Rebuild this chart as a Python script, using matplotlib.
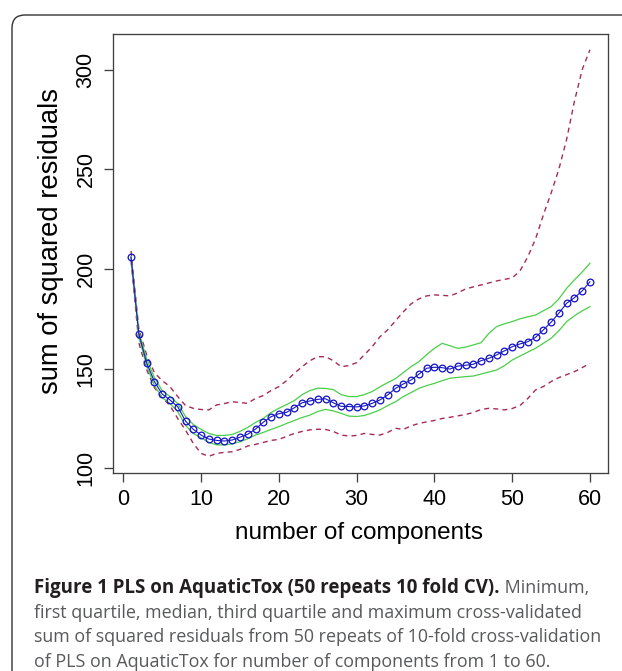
import matplotlib
matplotlib.use("Agg")
import matplotlib.pyplot as plt
from matplotlib.patches import FancyBboxPatch
from matplotlib.transforms import IdentityTransform

# cross-validated sum of squared residuals, 1..60 components
components = list(range(1, 61))
ssr_min = [204, 163, 149.5, 140.5, 135.5, 131.5, 125, 119.2, 112.5, 107.5,
           106, 107.5, 108, 108.3, 109.5, 111.2, 112, 113, 114, 114.5,
           116, 117.5, 118.5, 119.3, 119.6, 119.5, 118.5, 116.7, 116.2, 116.5,
           117.5, 117, 116.7, 118, 120.1, 119.5, 121.3, 122.5, 123.3, 124,
           125, 125.6, 126.3, 127, 128, 129.5, 130.1, 129.8, 129.3, 130,
           131.5, 135, 139.3, 141, 143.5, 145.5, 147, 148.5, 150.5, 152.7]
ssr_q1 = [206, 166, 151.5, 141.5, 135.5, 132.5, 128.5, 121.5, 117.5, 115.3,
          113, 111.8, 111.7, 112.3, 113.3, 114.8, 116.7, 118, 119.5, 120.9,
          122.5, 124, 125.5, 126.7, 128.5, 129.6, 128.8, 127.6, 126.2, 126,
          126.5, 127.8, 129.3, 131.5, 133.4, 136, 138, 140.1, 141.5, 142.6,
          144, 145.2, 145.6, 146, 146.3, 147.3, 148.3, 149.3, 151.5, 154.3,
          156.3, 158.3, 160.2, 162.7, 165.2, 169, 173.6, 176.5, 179, 181.1]
ssr_median = [206, 167.4, 153, 143.5, 137.3, 134.3, 130.9, 123.7, 119.6, 116.7,
              114.7, 114.0, 113.7, 114.2, 115.6, 117.1, 119.7, 123.1, 125.9, 127.4,
              128.1, 130.4, 132.9, 133.8, 134.6, 134.9, 132.9, 131.1, 131.0, 130.8,
              131.3, 132.6, 134.3, 136.8, 140.1, 142.3, 144.3, 147.2, 150.2, 150.7,
              150.5, 149.8, 151.3, 151.7, 152.2, 154.0, 155.2, 156.9, 158.9, 161.0,
              162.4, 163.5, 165.7, 169.4, 173.3, 177.8, 182.8, 185.6, 189.0, 193.6]
ssr_q3 = [206, 168.5, 155, 145.5, 139, 136, 132.5, 126, 122, 119.5,
          117.5, 116.5, 116.5, 117, 118.5, 120.5, 123, 125, 128, 130.1,
          132, 134, 137, 139, 140.2, 140.1, 139.5, 137, 136, 136,
          137, 138.5, 140.9, 143, 145, 148, 151, 153.5, 157, 160.2,
          162.7, 161.5, 160.2, 160.8, 161.9, 163, 167.7, 171.1, 172.5, 173.6,
          175, 176, 176.9, 179, 181.1, 185, 190.3, 194.5, 198.5, 202.9]
ssr_max = [209, 170, 157, 148, 144, 141, 136, 131.5, 130.1, 129.5,
           129.3, 131.8, 132.5, 133.4, 133, 132.6, 135.1, 136.5, 139, 141,
           144, 147.7, 151, 154, 156, 156, 154, 151, 151.5, 153,
           157, 161, 166, 169.5, 174, 178.5, 182.5, 185, 186.5, 187,
           186.8, 186.5, 188, 190, 191, 192, 193, 194, 194.8, 195.5,
           199, 206, 215, 227, 238, 250, 265, 284, 300, 310]

x_ticks = [0, 10, 20, 30, 40, 50, 60]
y_ticks = [100, 150, 200, 250, 300]

W, H = 622, 671
fig = plt.figure(figsize=(W / 100, H / 100), dpi=100)

# plot region in pixels (left, top, right, bottom)
L, T, R, B = 112.7, 34, 608.3, 473.3
ax = fig.add_axes([L / W, 1 - B / H, (R - L) / W, (B - T) / H])

dash_col = "#a82a55"
green = "#48d048"
ax.plot(components, ssr_max, color=dash_col, lw=1.0, dashes=(3.6, 3.0))
ax.plot(components, ssr_min, color=dash_col, lw=1.0, dashes=(3.6, 3.0))
ax.plot(components, ssr_q3, color=green, lw=0.9)
ax.plot(components, ssr_q1, color=green, lw=0.9)
ax.plot(components, ssr_median, color="#1818c8", lw=0.8, marker="o", ms=4.8,
        mfc="none", mec="#1818c8", mew=0.95)

ax.set_xlim(-1.36, 62.36)
ax.set_ylim(97.5, 317.9)
ax.set_xticks(x_ticks)
ax.set_yticks(y_ticks)

tick_font = dict(family="Liberation Sans", size=15.5)
ax.set_xticklabels([str(v) for v in x_ticks], fontdict=tick_font)
ax.set_yticklabels([str(v) for v in y_ticks], fontdict=tick_font,
                   rotation=90, va="center")
ax.tick_params(length=6.5, width=0.95, color="#404040", direction="out")
ax.tick_params(axis="x", pad=4.5)
ax.tick_params(axis="y", pad=5)
for s in ax.spines.values():
    s.set_color("#404040")
    s.set_linewidth(0.95)

fig.text(359 / W, 1 - 533 / H, "number of components", ha="center",
         va="center", family="Liberation Sans", size=17.5)
fig.text(51 / W, 1 - 241 / H, "sum of squared residuals", ha="center",
         va="center", rotation=90, family="Liberation Sans", size=19.7)

# outer frame with rounded corner
frame = FancyBboxPatch((12, -60), 720, H - 15 + 60,
                       boxstyle="round,pad=0,rounding_size=13",
                       transform=IdentityTransform(), fill=False,
                       ec="#333333", lw=1.0)
fig.add_artist(frame)

# caption
x0 = 34 / W
bold = fig.text(x0, 1 - 593 / H, "Figure 1 PLS on AquaticTox (50 repeats 10 fold CV).",
                family="Open Sans", weight="bold", size=13.5,
                color="#231f20", va="baseline")
fig.canvas.draw()
bb = bold.get_window_extent(renderer=fig.canvas.get_renderer())
fig.text(bb.x1 / W, 1 - 593 / H, " Minimum,", family="Open Sans",
         size=12.9, color="#58595b", va="baseline")
rest = ["first quartile, median, third quartile and maximum cross-validated",
        "sum of squared residuals from 50 repeats of 10-fold cross-validation",
        "of PLS on AquaticTox for number of components from 1 to 60."]
for i, line in enumerate(rest):
    fig.text(x0, 1 - (618 + 24.3 * i) / H, line, family="Open Sans",
             size=12.9, color="#58595b", va="baseline")

fig.savefig("out.png", dpi=100)
